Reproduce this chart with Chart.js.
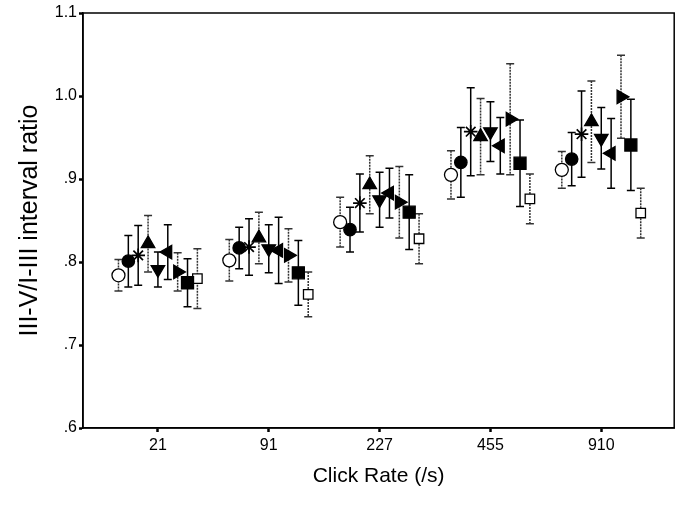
<!DOCTYPE html>
<html>
<head>
<meta charset="utf-8">
<script src="https://cdn.jsdelivr.net/npm/chart.js@4/dist/chart.umd.min.js"></script>
<style>
  html, body { margin: 0; padding: 0; background: #fff; }
  #wrap { width: 684px; height: 508px; }
</style>
</head>
<body>
<div id="wrap"><canvas id="c" width="684" height="508"></canvas></div>
<script>
// Categories (click rates) and y tick labels
const categories = ['21', '91', '227', '455', '910'];
const yTickValues = [0.6, 0.7, 0.8, 0.9, 1.0, 1.1];
const yTickLabels = ['.6', '.7', '.8', '.9', '1.0', '1.1'];

// Series means and error half-widths (one pair per marker type)
const openCircleMean   = [0.784, 0.802, 0.848, 0.905, 0.911];
const openCircleErr    = [0.019, 0.025, 0.030, 0.029, 0.022];
const filledCircleMean = [0.801, 0.817, 0.839, 0.920, 0.924];
const filledCircleErr  = [0.031, 0.025, 0.027, 0.042, 0.032];
const asteriskMean     = [0.808, 0.818, 0.871, 0.957, 0.954];
const asteriskErr      = [0.036, 0.034, 0.035, 0.053, 0.052];
const triUpMean        = [0.822, 0.829, 0.893, 0.951, 0.969];
const triUpErr         = [0.034, 0.031, 0.035, 0.046, 0.049];
const triDownMean      = [0.791, 0.816, 0.875, 0.957, 0.949];
const triDownErr       = [0.021, 0.029, 0.033, 0.036, 0.037];
const triLeftMean      = [0.812, 0.814, 0.883, 0.940, 0.931];
const triLeftErr       = [0.033, 0.040, 0.030, 0.034, 0.042];
const triRightMean     = [0.788, 0.808, 0.872, 0.972, 0.999];
const triRightErr      = [0.023, 0.032, 0.043, 0.067, 0.050];
const filledSquareMean = [0.775, 0.787, 0.860, 0.919, 0.941];
const filledSquareErr  = [0.029, 0.039, 0.045, 0.052, 0.055];
const openSquareMean   = [0.780, 0.761, 0.828, 0.876, 0.859];
const openSquareErr    = [0.036, 0.027, 0.030, 0.030, 0.030];

// Marker styling (kept separate from data)
const seriesDefs = [
  { mean: openCircleMean,   err: openCircleErr,   style: 'circle',   rot: 0,   r: 6.5, fill: '#fff', bar: '#333', dash: [2, 1] },
  { mean: filledCircleMean, err: filledCircleErr, style: 'circle',   rot: 0,   r: 6.2, fill: '#000', bar: '#000', dash: [] },
  { mean: asteriskMean,     err: asteriskErr,     style: 'star',     rot: 0,   r: 6.8, fill: '#000', bar: '#000', dash: [] },
  { mean: triUpMean,        err: triUpErr,        style: 'triangle', rot: 0,   r: 7.8, fill: '#000', bar: '#333', dash: [2, 1] },
  { mean: triDownMean,      err: triDownErr,      style: 'triangle', rot: 180, r: 7.8, fill: '#000', bar: '#000', dash: [] },
  { mean: triLeftMean,      err: triLeftErr,      style: 'triangle', rot: 270, r: 7.8, fill: '#000', bar: '#000', dash: [] },
  { mean: triRightMean,     err: triRightErr,     style: 'triangle', rot: 90,  r: 7.8, fill: '#000', bar: '#333', dash: [2, 1] },
  { mean: filledSquareMean, err: filledSquareErr, style: 'rect',     rot: 0,   r: 8.5, fill: '#000', bar: '#000', dash: [] },
  { mean: openSquareMean,   err: openSquareErr,   style: 'rect',     rot: 0,   r: 6.7, fill: '#fff', bar: '#333', dash: [2, 1] }
];
const groupSpread = 0.089; // x offset between series within a category (category units)

const datasets = seriesDefs.map((s, si) => ({
  data: s.mean.map((v, i) => ({ x: i + (si - 4) * groupSpread, y: v })),
  errors: s.err,
  barColor: s.bar,
  barDash: s.dash,
  pointStyle: s.style,
  rotation: s.rot,
  pointRadius: s.r,
  pointHoverRadius: s.r,
  backgroundColor: s.fill,
  borderColor: '#000',
  borderWidth: s.style === 'star' ? 1.7 : 1.3,
  showLine: false
}));

const errorBars = {
  id: 'errorBars',
  beforeDatasetsDraw(chart) {
    const ctx = chart.ctx, ys = chart.scales.y, xs = chart.scales.x;
    ctx.save();
    chart.data.datasets.forEach((ds) => {
      ds.data.forEach((p, i) => {
        const e = ds.errors[i];
        const px = xs.getPixelForValue(p.x);
        const yt = ys.getPixelForValue(p.y + e);
        const yb = ys.getPixelForValue(p.y - e);
        ctx.strokeStyle = ds.barColor;
        ctx.lineWidth = 1.5;
        ctx.setLineDash(ds.barDash);
        ctx.beginPath();
        ctx.moveTo(px, yt); ctx.lineTo(px, yb);
        ctx.stroke();
        ctx.setLineDash([]);
        ctx.beginPath();
        ctx.moveTo(px - 4, yt); ctx.lineTo(px + 4, yt);
        ctx.moveTo(px - 4, yb); ctx.lineTo(px + 4, yb);
        ctx.stroke();
      });
    });
    ctx.restore();
  }
};

const frame = {
  id: 'frame',
  afterDraw(chart) {
    const { left, top, right, bottom } = chart.chartArea;
    const ctx = chart.ctx;
    ctx.save();
    ctx.strokeStyle = '#000';
    ctx.lineWidth = 1.5;
    ctx.strokeRect(left, top, right - left, bottom - top);
    ctx.restore();
  }
};

const FONT = "'Liberation Sans', Arial, sans-serif";

new Chart(document.getElementById('c'), {
  type: 'scatter',
  data: { datasets },
  plugins: [errorBars, frame],
  options: {
    responsive: false,
    animation: false,
    events: [],
    layout: { padding: { left: 0, right: 9, top: 13, bottom: 0 } },
    plugins: { legend: { display: false }, tooltip: { enabled: false } },
    scales: {
      x: {
        type: 'linear',
        min: -0.676,
        max: 4.658,
        afterFit(scale) { scale.height = 80; },
        afterBuildTicks(scale) { scale.ticks = categories.map((c, i) => ({ value: i })); },
        ticks: {
          autoSkip: false, maxRotation: 0, padding: 4, color: '#000',
          font: { family: FONT, size: 16 },
          callback: (v) => categories[Math.round(v)]
        },
        grid: { display: true, drawOnChartArea: false, drawTicks: true, tickLength: 4, tickWidth: 2.5, tickColor: '#000' },
        border: { display: true, color: '#000', width: 1.5 },
        title: { display: true, text: 'Click Rate (/s)', color: '#000', font: { family: FONT, size: 21 }, padding: { top: 0, bottom: 19 } }
      },
      y: {
        min: 0.6,
        max: 1.1,
        afterFit(scale) { scale.width = 83; },
        afterBuildTicks(scale) { scale.ticks = yTickValues.map(v => ({ value: v })); },
        ticks: {
          padding: 2, color: '#000',
          font: { family: FONT, size: 16 },
          callback: (v, i) => yTickLabels[i]
        },
        grid: { display: true, drawOnChartArea: false, drawTicks: true, tickLength: 4, tickWidth: 2.5, tickColor: '#000' },
        border: { display: true, color: '#000', width: 1.5 },
        title: { display: true, text: 'III-V/I-III interval ratio', color: '#000', font: { family: FONT, size: 25 }, padding: { top: 15, bottom: 0 } }
      }
    }
  }
});
</script>
</body>
</html>
